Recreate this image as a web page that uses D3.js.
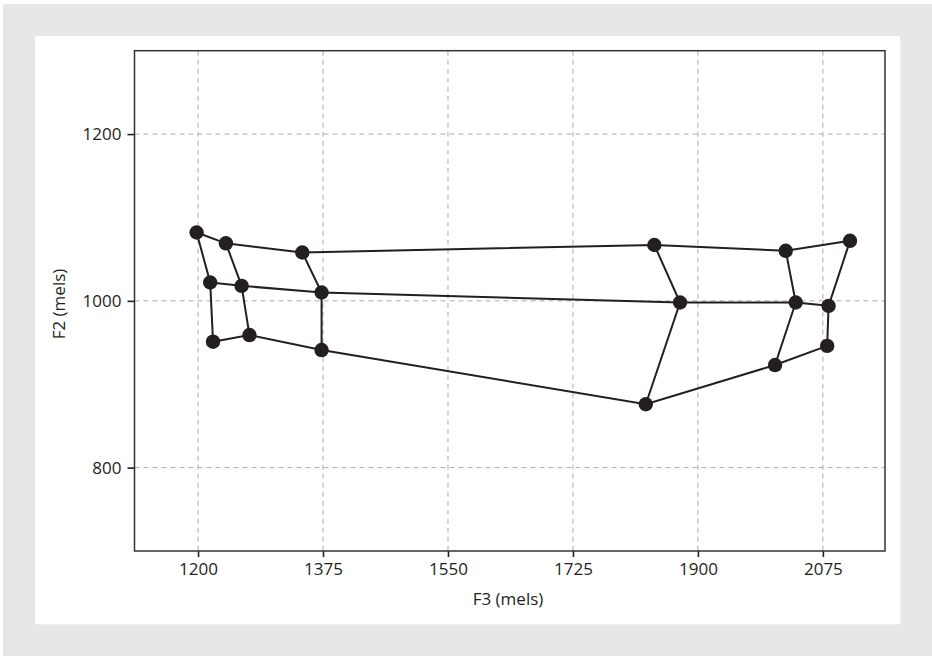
<!DOCTYPE html>
<html>
<head>
<meta charset="utf-8">
<script src="https://cdn.jsdelivr.net/npm/d3@7/dist/d3.min.js"></script>
<style>
  html, body { margin: 0; padding: 0; background: #ffffff; }
  svg { display: block; }
  text { font-family: "Open Sans", "Noto Sans", sans-serif; fill: #231f20; }
</style>
</head>
<body>
<svg id="chart" width="932" height="656"></svg>
<script>
// ---- data ----
const rowNames = ["top", "middle", "bottom"];
const f3Top = [1198, 1239, 1346, 1839, 2023, 2113];
const f2Top = [1082, 1069, 1058, 1067, 1060, 1072];
const f3Mid = [1217, 1261, 1373, 1875, 2037, 2083];
const f2Mid = [1022, 1018, 1010, 998, 998, 994];
const f3Bot = [1221, 1272, 1373, 1827, 2008, 2081];
const f2Bot = [951, 959, 941, 876, 923, 946];
const xTicks = [1200, 1375, 1550, 1725, 1900, 2075];
const yTicks = [800, 1000, 1200];
const xTitle = "F3 (mels)";
const yTitle = "F2 (mels)";

const rowsF3 = [f3Top, f3Mid, f3Bot];
const rowsF2 = [f2Top, f2Mid, f2Bot];
const rows = rowsF3.map((r, i) => r.map((v, j) => ({ f3: v, f2: rowsF2[i][j] })));
const cols = f3Top.map((_, j) => rows.map(r => r[j]));

// ---- layout ----
const svg = d3.select("#chart");
svg.append("rect").attr("x", 3).attr("y", 4).attr("width", 929).attr("height", 652).attr("fill", "#e6e7e8");
svg.append("rect").attr("x", 35).attr("y", 36).attr("width", 865.3).attr("height", 588.3).attr("fill", "#ffffff");

const L = 134.5, T = 50.7, R = 885, B = 551;
const x = d3.scaleLinear().domain([1111, 2162]).range([L, R]);
const y = d3.scaleLinear().domain([700, 1300]).range([B, T]);

// grid
const grid = svg.append("g");
grid.selectAll("line.vx").data(xTicks).join("line")
  .attr("x1", d => x(d)).attr("x2", d => x(d)).attr("y1", T).attr("y2", B)
  .attr("stroke", "#ababab").attr("stroke-width", 1).attr("stroke-dasharray", "5,4");
grid.selectAll("line.hy").data(yTicks).join("line")
  .attr("y1", d => y(d)).attr("y2", d => y(d)).attr("x1", L).attr("x2", R)
  .attr("stroke", "#ababab").attr("stroke-width", 1).attr("stroke-dasharray", "5,4");

// axes
const xAxis = svg.append("g").attr("transform", `translate(0,${B})`)
  .call(d3.axisBottom(x).tickValues(xTicks).tickSize(6).tickPadding(6).tickFormat(d3.format("d")));
const yAxis = svg.append("g").attr("transform", `translate(${L},0)`)
  .call(d3.axisLeft(y).tickValues(yTicks).tickSize(7).tickPadding(6).tickFormat(d3.format("d")));
[xAxis, yAxis].forEach(a => {
  a.select(".domain").remove();
  a.selectAll(".tick line").attr("stroke", "#231f20").attr("stroke-width", 1.6);
  a.selectAll(".tick text").attr("font-size", 17).attr("fill", "#231f20")
    .attr("font-family", "'Open Sans', 'Noto Sans', sans-serif");
});

// frame
svg.append("rect").attr("x", L).attr("y", T).attr("width", R - L).attr("height", B - T)
  .attr("fill", "none").attr("stroke", "#333333").attr("stroke-width", 1.5);

// lines
const line = d3.line().x(d => x(d.f3)).y(d => y(d.f2));
const g = svg.append("g");
g.selectAll("path.row").data(rows).join("path")
  .attr("d", line).attr("fill", "none").attr("stroke", "#231f20").attr("stroke-width", 2);
g.selectAll("path.col").data(cols).join("path")
  .attr("d", line).attr("fill", "none").attr("stroke", "#231f20").attr("stroke-width", 2);

// dots
g.selectAll("circle").data(rows.flat()).join("circle")
  .attr("cx", d => x(d.f3)).attr("cy", d => y(d.f2)).attr("r", 7.2).attr("fill", "#231f20");

// titles
svg.append("text").attr("x", 508).attr("y", 605).attr("text-anchor", "middle")
  .attr("font-size", 17).text(xTitle);
svg.append("text").attr("transform", "translate(65,304) rotate(-90)").attr("text-anchor", "middle")
  .attr("font-size", 17).text(yTitle);
</script>
</body>
</html>
